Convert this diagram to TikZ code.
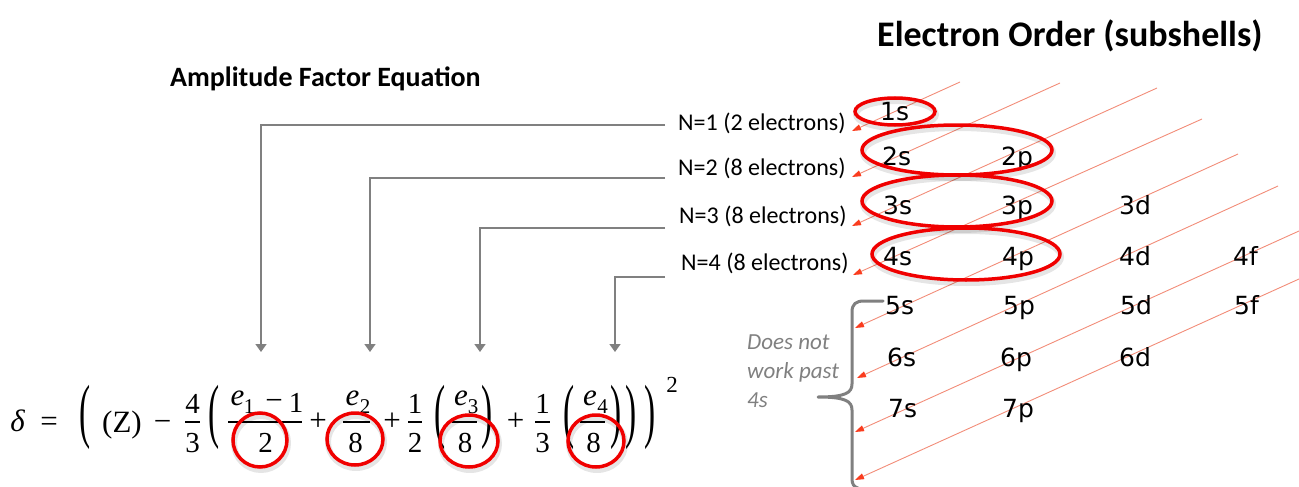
\documentclass[tikz,border=0pt]{standalone}
\usepackage{fontspec}
\usepackage{graphicx}
\setmainfont{Carlito}
\newfontfamily\dvfont{DejaVu Sans}
\newfontfamily\eqfont{Liberation Serif}
\usetikzlibrary{arrows.meta}
\definecolor{ered}{RGB}{240,0,0}
\definecolor{lsalmon}{RGB}{242,140,120}
\definecolor{tipred}{RGB}{250,60,30}
\definecolor{cgray}{RGB}{128,128,128}
\newcommand{\bigpar}[1]{\scalebox{1.15}[2.45]{#1}}
\tikzset{
  subsh/.style={font=\dvfont\fontsize{25}{30}\selectfont, anchor=base west, inner sep=0pt},
  nlab/.style={font=\fontsize{24}{28}\selectfont, anchor=base west, inner sep=0pt},
  ttl/.style={font=\bfseries\fontsize{36}{40}\selectfont, anchor=base west, inner sep=0pt},
  eqm/.style={font=\eqfont\fontsize{31}{34}\selectfont, anchor=base, inner sep=0pt},
  eqi/.style={font=\eqfont\itshape\fontsize{31}{34}\selectfont, anchor=base, inner sep=0pt},
  eqd/.style={font=\eqfont\fontsize{29}{32}\selectfont, anchor=base, inner sep=0pt},
  eqs/.style={font=\eqfont\fontsize{21}{24}\selectfont, anchor=base, inner sep=0pt},
  eqp/.style={font=\eqfont\fontsize{29}{32}\selectfont, anchor=center, inner sep=0pt},
  fbar/.style={line width=1.3pt, black},
  garrow/.style={draw=cgray, line width=1.6pt, -{Triangle[length=8pt,width=11pt]}},
  darrow/.style={draw=lsalmon, line width=0.9pt, -{Triangle[length=9pt,width=6pt,color=tipred]}},
  ering/.style={draw=ered, line width=3.5pt},
  eshadow/.style={draw=black, opacity=0.10, line width=6pt},
  brace/.style={draw=cgray, line width=3pt, line cap=round, line join=round},
}
\begin{document}
\begin{tikzpicture}[x=1pt,y=-1pt]
\useasboundingbox (0,0) rectangle (1299,487);

% titles
\node[ttl] (title) at (877,47) {Electron Order (subshells)};
\node[ttl, font=\bfseries\fontsize{28}{32}\selectfont] (atitle) at (170,86) {Amplitude Factor Equation};

% diagonal lines
\coordinate (a1) at (852,131); \coordinate (b1) at (960,82);
\coordinate (a2) at (852,177); \coordinate (b2) at (1060,83);
\coordinate (a3) at (852,226); \coordinate (b3) at (1157,88);
\coordinate (a4) at (853,275); \coordinate (b4) at (1202,119);
\coordinate (a5) at (855,328); \coordinate (b5) at (1238,154);
\coordinate (a6) at (857,378); \coordinate (b6) at (1278,186);
\coordinate (a7) at (855,432); \coordinate (b7) at (1299,231);
\coordinate (a8) at (855,480); \coordinate (b8) at (1299,279);
\foreach \i in {1,...,8} {\draw[darrow] (b\i) -- (a\i);}

% subshell labels
\node[subsh] (s1s) at (880,120) {1s};
\node[subsh] (s2s) at (882,165) {2s};
\node[subsh] (s2p) at (1001,165) {2p};
\node[subsh] (s3s) at (883,214) {3s};
\node[subsh] (s3p) at (1001,214) {3p};
\node[subsh] (s3d) at (1119,214) {3d};
\node[subsh] (s4s) at (883,265) {4s};
\node[subsh] (s4p) at (1002,265) {4p};
\node[subsh] (s4d) at (1119,265) {4d};
\node[subsh] (s4f) at (1233,265) {4f};
\node[subsh] (s5s) at (885,314) {5s};
\node[subsh] (s5p) at (1003,314) {5p};
\node[subsh] (s5d) at (1120,314) {5d};
\node[subsh] (s5f) at (1234,314) {5f};
\node[subsh] (s6s) at (887,366) {6s};
\node[subsh] (s6p) at (1000,366) {6p};
\node[subsh] (s6d) at (1119,366) {6d};
\node[subsh] (s7s) at (888,417) {7s};
\node[subsh] (s7p) at (1002,417) {7p};

% shell ellipses
\foreach \cx/\cy/\rx/\ry in {895/111.5/40/13.5, 957/150/95/25, 957/201/95/26, 966/254/94/26}{
  \draw[eshadow] (\cx+1,\cy+3) ellipse [x radius=\rx, y radius=\ry];
  \draw[ering] (\cx,\cy) ellipse [x radius=\rx, y radius=\ry];
}

% N labels
\node[nlab] (n1) at (678,130) {N=1 (2 electrons)};
\node[nlab] (n2) at (678,175) {N=2 (8 electrons)};
\node[nlab] (n3) at (679,223) {N=3 (8 electrons)};
\node[nlab] (n4) at (681,270) {N=4 (8 electrons)};

% gray connectors
\coordinate (g1) at (665,125); \coordinate (t1) at (261,352);
\coordinate (g2) at (665,178); \coordinate (t2) at (370,352);
\coordinate (g3) at (665,228); \coordinate (t3) at (480,352);
\coordinate (g4) at (665,277); \coordinate (t4) at (615,352);
\foreach \i in {1,...,4} {\draw[garrow] (g\i) -| (t\i);}

% brace and note
\coordinate (br0) at (883,301);
\draw[brace] (br0) -- (864,301) .. controls (856,301) and (852,304) .. (852,312)
  -- (852,384) .. controls (852,393) and (845,397) .. (818,397)
  .. controls (845,397) and (852,401) .. (852,410)
  -- (852,479) .. controls (852,484) and (854,487) .. (858,488);
\node[anchor=north west, align=left, inner sep=0pt, text=cgray,
      font=\itshape\fontsize{23}{29}\selectfont] (note) at (747,335) {Does not\\work past\\4s};

% equation
\node[eqi] (delta) at (17.5,431) {δ};
\node[eqm] (eqs) at (49,431) {=};
\node[eqp] (p1) at (85,417.5) {\bigpar{(}};
\node[eqm] (z) at (122,432) {(Z)};
\node[eqm] (m1) at (162.5,431) {−};
\node[eqd] (f1n) at (192.5,413) {4};
\node[eqd] (f1d) at (192.5,452) {3};
\draw[fbar] (185,422) -- (200,422);
\node[eqp] (p2) at (214.5,417.5) {\bigpar{(}};
\node[eqi] (e1) at (237.5,405) {e};
\node[eqs] (e1s) at (249,413) {1};
\node[eqm] (m2) at (274,410) {−};
\node[eqd] (one) at (296,412) {1};
\draw[fbar] (228,422) -- (302,422);
\node[eqd] (d1) at (265.5,452) {2};
\node[eqm] (pl1) at (318,430) {+};
\node[eqi] (e2) at (352.5,405) {e};
\node[eqs] (e2s) at (365,413) {2};
\draw[fbar] (343,422) -- (370,422);
\node[eqd] (d2) at (355.5,452) {8};
\node[eqm] (pl2) at (392,430) {+};
\node[eqd] (f2n) at (415,413) {1};
\node[eqd] (f2d) at (415,452) {2};
\draw[fbar] (408,422) -- (422,422);
\node[eqp] (p3) at (440.5,417.5) {\bigpar{(}};
\node[eqi] (e3) at (461,405) {e};
\node[eqs] (e3s) at (473,413) {3};
\draw[fbar] (452,422) -- (477,422);
\node[eqd] (d3) at (465,452) {8};
\node[eqp] (q3) at (487.5,417.5) {\bigpar{)}};
\node[eqm] (pl3) at (515.5,430) {+};
\node[eqd] (f3n) at (542.5,413) {1};
\node[eqd] (f3d) at (542.5,452) {3};
\draw[fbar] (535,422) -- (550,422);
\node[eqp] (p4) at (569.5,417.5) {\bigpar{(}};
\node[eqi] (e4) at (590,405) {e};
\node[eqs] (e4s) at (602.5,413) {4};
\draw[fbar] (580,422) -- (605,422);
\node[eqd] (d4) at (593.5,452) {8};
\node[eqp] (q4) at (616,417.5) {\bigpar{)}};
\node[eqp] (q2) at (631.5,417.5) {\bigpar{)}};
\node[eqp] (q1) at (650,417.5) {\bigpar{)}};
\node[eqs, font=\eqfont\fontsize{23}{26}\selectfont] (sq) at (672,392) {2};

% equation ellipses
\foreach \cx/\cy/\rx/\ry in {260/440/27/27, 355/439/28/26, 469/441/29/26, 596/441/28/26}{
  \draw[eshadow] (\cx+1,\cy+3) ellipse [x radius=\rx, y radius=\ry];
  \draw[ering] (\cx,\cy) ellipse [x radius=\rx, y radius=\ry];
}
\end{tikzpicture}
\end{document}
